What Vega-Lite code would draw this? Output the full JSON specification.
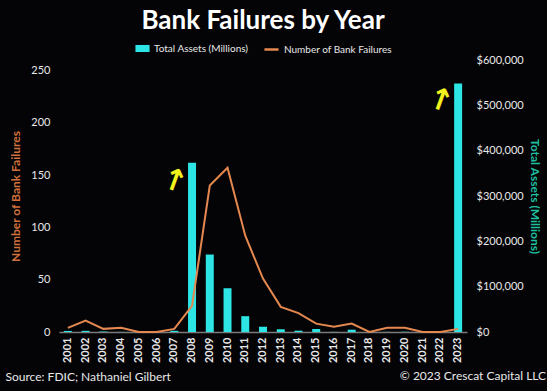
{
  "$schema": "https://vega.github.io/schema/vega-lite/v6.json",
  "width": 408,
  "height": 272,
  "autosize": {"type": "none"},
  "padding": {"left": 59, "top": 60, "right": 80, "bottom": 59},
  "background": "#040407",
  "title": {"text": "Bank Failures by Year", "color": "#ffffff", "fontSize": 26, "font": "Lato", "fontWeight": "bold", "anchor": "middle", "offset": 7},
  "datasets": {
    "main": [
      {"year": "2001", "failures": 4, "assets": 2359},
      {"year": "2002", "failures": 11, "assets": 2508},
      {"year": "2003", "failures": 3, "assets": 1045},
      {"year": "2004", "failures": 4, "assets": 169},
      {"year": "2005", "failures": 0, "assets": 0},
      {"year": "2006", "failures": 0, "assets": 0},
      {"year": "2007", "failures": 3, "assets": 2615},
      {"year": "2008", "failures": 25, "assets": 373589},
      {"year": "2009", "failures": 140, "assets": 170867},
      {"year": "2010", "failures": 157, "assets": 96514},
      {"year": "2011", "failures": 92, "assets": 34923},
      {"year": "2012", "failures": 51, "assets": 11617},
      {"year": "2013", "failures": 24, "assets": 6044},
      {"year": "2014", "failures": 18, "assets": 2914},
      {"year": "2015", "failures": 8, "assets": 6706},
      {"year": "2016", "failures": 5, "assets": 311},
      {"year": "2017", "failures": 8, "assets": 5082},
      {"year": "2018", "failures": 0, "assets": 0},
      {"year": "2019", "failures": 4, "assets": 209},
      {"year": "2020", "failures": 4, "assets": 458},
      {"year": "2021", "failures": 0, "assets": 0},
      {"year": "2022", "failures": 0, "assets": 0},
      {"year": "2023", "failures": 3, "assets": 548000}
    ],
    "arrows": [
      {"year": "2007", "value": 144, "label": "↑"},
      {"year": "2022", "value": 221, "label": "↑"}
    ],
    "credit": [
      {"year": "2023", "value": 0, "label": "© 2023 Crescat Capital LLC"}
    ]
  },
  "layer": [
    {
      "data": {"name": "main"},
      "mark": {"type": "bar", "color": "#2de5e5"},
      "encoding": {
        "x": {
          "field": "year", "type": "ordinal",
          "scale": {"paddingInner": 0.55, "paddingOuter": 0.275},
          "axis": {
            "labelAngle": -90, "labelColor": "#e8e8e8", "labelFont": "Lato", "labelFontSize": 11, "labelFontWeight": "bold",
            "labelPadding": 5, "ticks": false, "domainColor": "#7a7a7a", "domainWidth": 1.5,
            "title": "Source: FDIC; Nathaniel Gilbert", "titleColor": "#e8e8e8", "titleFont": "Lato", "titleFontSize": 12, "titleFontWeight": "normal",
            "titleAnchor": "start", "titleAlign": "left", "titleBaseline": "middle", "titleAngle": 0, "titleX": -54, "titleY": 44
          }
        },
        "y": {
          "field": "assets", "type": "quantitative",
          "scale": {"domain": [0, 600000], "nice": false},
          "axis": {
            "orient": "right", "values": [0, 100000, 200000, 300000, 400000, 500000, 600000], "format": "$,.0f",
            "grid": false, "ticks": false, "domain": false, "labelPadding": 9,
            "labelColor": "#e8e8e8", "labelFont": "Lato", "labelFontSize": 11,
            "title": "Total Assets (Millions)", "titleColor": "#1fbf9f", "titleFont": "Lato", "titleFontSize": 12, "titleFontWeight": "bold", "titlePadding": 4
          }
        },
        "fill": {
          "datum": "Total Assets (Millions)",
          "scale": {"range": ["#2de5e5"]},
          "legend": {"title": null, "orient": "top", "offset": 5, "symbolType": "M-1,-0.5H1V0.5H-1Z", "symbolSize": 200, "labelColor": "#e8e8e8", "labelFont": "Lato", "labelFontSize": 10, "symbolStrokeWidth": 0}
        }
      }
    },
    {
      "layer": [
        {
          "data": {"name": "main"},
          "mark": {"type": "line", "color": "#e58850", "strokeWidth": 2},
          "encoding": {
            "x": {"field": "year", "type": "ordinal"},
            "y": {
              "field": "failures", "type": "quantitative",
              "scale": {"domain": [0, 260], "nice": false},
              "axis": {
                "orient": "left", "values": [0, 50, 100, 150, 200, 250],
                "grid": false, "ticks": false, "domain": false, "labelPadding": 9,
                "labelColor": "#e8e8e8", "labelFont": "Lato", "labelFontSize": 11,
                "title": "Number of Bank Failures", "titleColor": "#d2703c", "titleFont": "Lato", "titleFontSize": 12, "titleFontWeight": "bold", "titlePadding": 8
              }
            },
            "stroke": {
              "datum": "Number of Bank Failures",
              "scale": {"range": ["#e58850"]},
              "legend": {"title": null, "orient": "top", "offset": 5, "symbolType": "stroke", "symbolSize": 200, "symbolStrokeWidth": 2.5, "labelColor": "#e8e8e8", "labelFont": "Lato", "labelFontSize": 10}
            }
          }
        },
        {
          "data": {"name": "arrows"},
          "mark": {"type": "text", "color": "#f2f21c", "fontSize": 30, "fontWeight": "bold", "font": "DejaVu Sans", "angle": 20, "baseline": "middle", "align": "center"},
          "encoding": {
            "x": {"field": "year", "type": "ordinal"},
            "y": {"field": "value", "type": "quantitative"},
            "text": {"field": "label"}
          }
        },
        {
          "data": {"name": "credit"},
          "mark": {"type": "text", "color": "#e8e8e8", "fontSize": 12, "font": "Lato", "align": "right", "baseline": "middle", "dx": 88, "dy": 44},
          "encoding": {
            "x": {"field": "year", "type": "ordinal"},
            "y": {"field": "value", "type": "quantitative"},
            "text": {"field": "label"}
          }
        }
      ]
    }
  ],
  "resolve": {"scale": {"y": "independent"}},
  "config": {
    "view": {"stroke": null},
    "legend": {"layout": {"top": {"anchor": "middle", "direction": "horizontal", "margin": 14}}}
  }
}
